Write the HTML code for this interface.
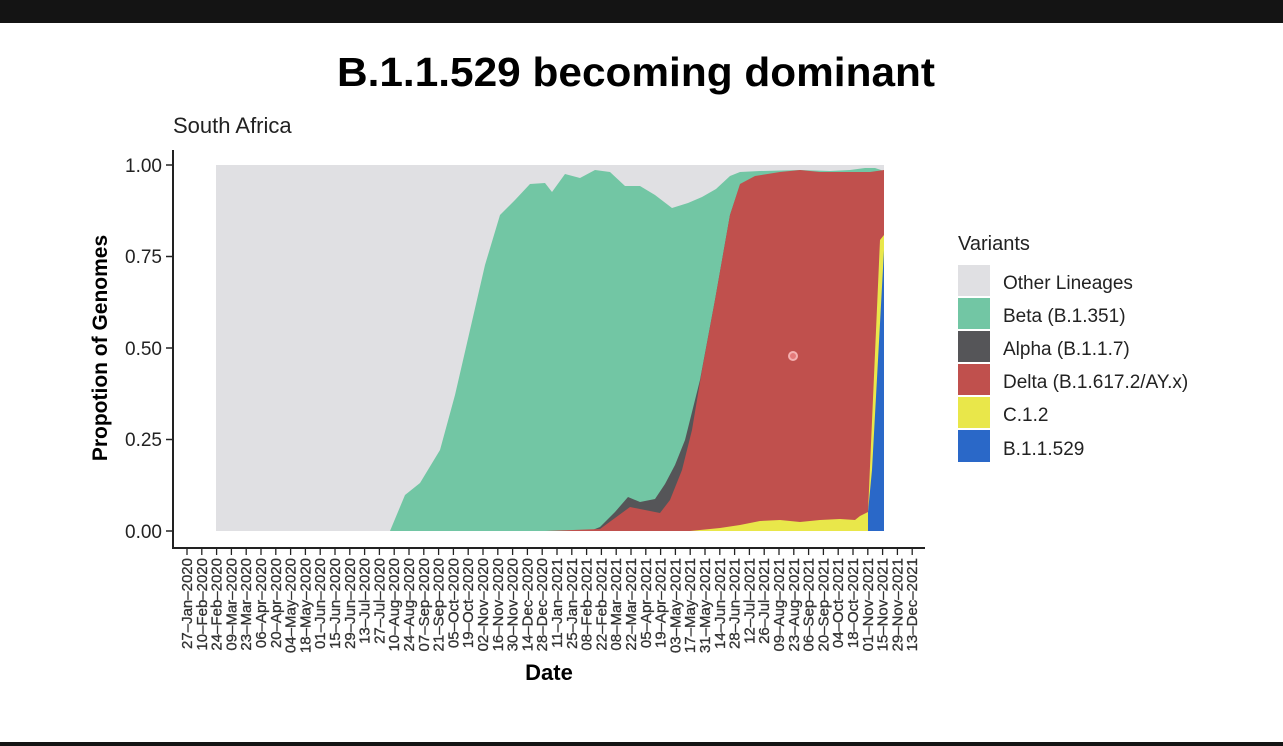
<!DOCTYPE html>
<html><head><meta charset="utf-8"><style>
body{margin:0;background:#fff;}
svg{display:block;font-family:"Liberation Sans",Arial,sans-serif;}
</style></head><body>
<svg width="1283" height="746" viewBox="0 0 1283 746" xmlns="http://www.w3.org/2000/svg">
<rect x="0" y="0" width="1283" height="746" fill="#fff"/>
<rect x="0" y="0" width="1283" height="23" fill="#141414"/>
<rect x="0" y="742" width="1283" height="4" fill="#141414"/>
<text x="636" y="86" text-anchor="middle" font-size="41" font-weight="bold" fill="#000" textLength="598" lengthAdjust="spacingAndGlyphs">B.1.1.529 becoming dominant</text>
<text x="173" y="133" font-size="22" fill="#222">South Africa</text>

<rect x="216" y="165" width="668" height="366" fill="#e0e0e3"/>
<polygon fill="#72c6a4" points="390,531 405,495 420,483 440,450 455,395 470,330 485,265 500,215 515,200 530,184 545,183 552,192 565,174 580,178 595,170 610,172 625,186 640,186 655,195 672,208 688,203 702,197 716,189 730,176 740,172 760,171 800,170 830,171 850,170 865,168 875,168 884,171 884,531"/>
<polygon fill="#555558" points="590,531 600,527 615,512 628,497 640,502 655,499 665,484 675,465 685,440 700,380 715,300 730,215 740,185 884,185 884,531"/>
<polygon fill="#c0504d" points="545,531 600,529 615,518 630,507 645,510 660,513 670,500 682,470 692,430 702,370 715,300 730,215 740,184 755,176 780,172 800,170 820,172 840,172 860,172 870,172 884,170 884,531"/>
<polygon fill="#e9e74a" points="690,531 700,530 720,528 740,525 760,521 780,520 800,522 820,520 840,519 855,520 860,516 868,512 880,240 884,235 884,531"/>
<polygon fill="#2a68c8" points="868,531 868,512 872,470 884,250 884,531"/>

<circle cx="793" cy="356" r="4" fill="#e57a7a" stroke="#f4b0b0" stroke-width="2"/>

<line x1="173" y1="150" x2="173" y2="549" stroke="#222" stroke-width="2"/>
<line x1="172" y1="548" x2="925" y2="548" stroke="#222" stroke-width="2"/>
<g stroke="#222" stroke-width="1.5">
<line x1="166" y1="165" x2="173" y2="165"/><line x1="166" y1="256.5" x2="173" y2="256.5"/><line x1="166" y1="348" x2="173" y2="348"/><line x1="166" y1="439.5" x2="173" y2="439.5"/><line x1="166" y1="531" x2="173" y2="531"/>
</g>
<g font-size="19" fill="#222" text-anchor="end">
<text x="162" y="172">1.00</text><text x="162" y="263">0.75</text><text x="162" y="355">0.50</text><text x="162" y="446">0.25</text><text x="162" y="538">0.00</text>
</g>
<text transform="translate(107,348) rotate(-90)" text-anchor="middle" font-size="21" font-weight="bold" fill="#000">Propotion of Genomes</text>
<text x="549" y="680" text-anchor="middle" font-size="22" font-weight="bold" fill="#000">Date</text>

<g id="xt" stroke="#222" stroke-width="1.3"></g>
<g id="xl" font-size="15" fill="#333" stroke="#333" stroke-width="0.3" text-anchor="end"></g>

<text x="958" y="250" font-size="20" fill="#222">Variants</text>
<rect x="958" y="265" width="32" height="31" fill="#e0e0e3"/>
<rect x="958" y="298" width="32" height="31" fill="#72c6a4"/>
<rect x="958" y="331" width="32" height="31" fill="#555558"/>
<rect x="958" y="364" width="32" height="31" fill="#c0504d"/>
<rect x="958" y="397" width="32" height="31" fill="#e9e74a"/>
<rect x="958" y="430" width="32" height="32" fill="#2a68c8"/>
<g font-size="19" fill="#222">
<text x="1003" y="289">Other Lineages</text>
<text x="1003" y="322">Beta (B.1.351)</text>
<text x="1003" y="355">Alpha (B.1.1.7)</text>
<text x="1003" y="388">Delta (B.1.617.2/AY.x)</text>
<text x="1003" y="421">C.1.2</text>
<text x="1003" y="455">B.1.1.529</text>
</g>
</svg>
<script>
(function(){
var ns="http://www.w3.org/2000/svg";
var m=["Jan","Feb","Mar","Apr","May","Jun","Jul","Aug","Sep","Oct","Nov","Dec"];
var d=new Date(Date.UTC(2020,0,27));
var t=document.getElementById("xt"),l=document.getElementById("xl");
for(var i=0;i<50;i++){
 var x=187+i*14.8;
 var ln=document.createElementNS(ns,"line");
 ln.setAttribute("x1",x);ln.setAttribute("x2",x);ln.setAttribute("y1",548);ln.setAttribute("y2",555);
 t.appendChild(ln);
 var dd=d.getUTCDate();var s=(dd<10?"0":"")+dd+"\u2013"+m[d.getUTCMonth()]+"\u2013"+d.getUTCFullYear();
 var tx=document.createElementNS(ns,"text");
 tx.setAttribute("transform","translate("+(x+5)+",558) rotate(-90)");
 tx.textContent=s;l.appendChild(tx);
 d=new Date(d.getTime()+14*86400000);
}
})();
</script>
</body></html>
